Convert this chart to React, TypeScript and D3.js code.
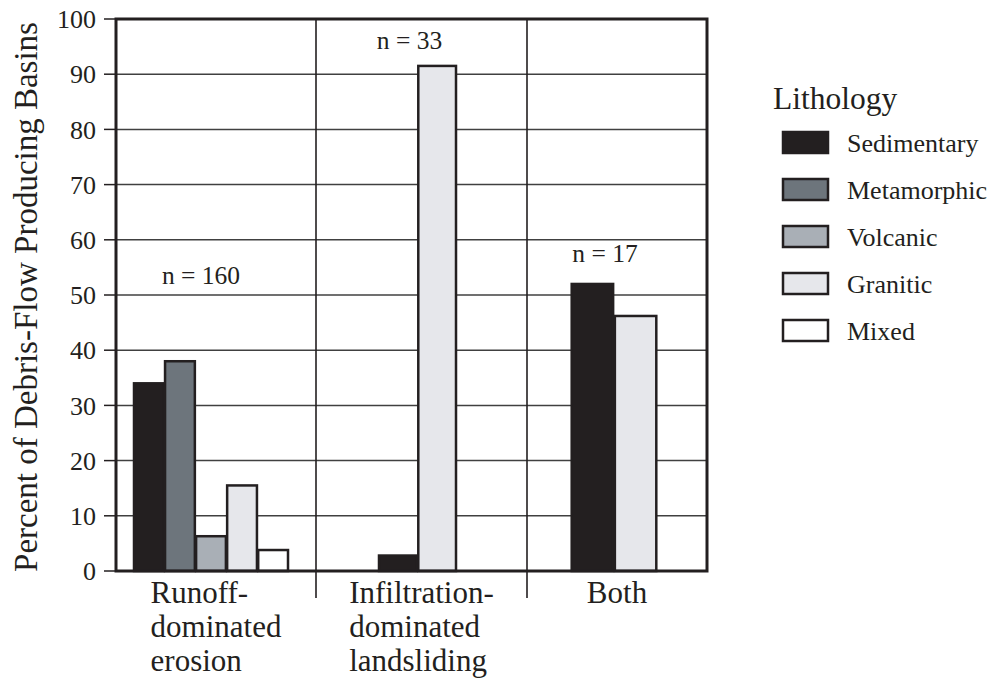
import React, { useEffect, useRef } from "react";
import * as d3 from "d3";

const lithologies = ["Sedimentary", "Metamorphic", "Volcanic", "Granitic", "Mixed"];
const lithColors = ["#231f20", "#6d757c", "#a9afb6", "#e6e7eb", "#ffffff"];

const categories = ["Runoff-dominated erosion", "Infiltration-dominated landsliding", "Both"];
const categoryLines = [["Runoff-", "dominated", "erosion"], ["Infiltration-", "dominated", "landsliding"], ["Both"]];

// values per category (null = no bar)
const runoffValues = [34, 38, 6.3, 15.5, 3.8];
const infiltrationValues = [2.8, null, null, 91.5, null];
const bothValues = [52, null, null, 46.2, null];
const seriesByCategory = [runoffValues, infiltrationValues, bothValues];

const nLabels = ["n = 160", "n = 33", "n = 17"];
const nLabelValues = [52, 94.5, 56];

const yTicks = [0, 10, 20, 30, 40, 50, 60, 70, 80, 90, 100];

const W = 990, H = 682;
const plot = { left: 116, top: 19, right: 707, bottom: 571 };
const catEdges = [116, 316, 527, 707];
const groupWidthFrac = [0.77, 0.365, 0.47];
const groupShift = [-5, -4, -3];
const INK = "#231f20";
const FONT = "'Liberation Serif', 'Times New Roman', serif";

export default function App() {
  const ref = useRef<SVGSVGElement>(null);
  useEffect(() => {
    const svg = d3.select(ref.current);
    svg.selectAll("*").remove();

    const y = d3.scaleLinear().domain([0, 100]).range([plot.bottom, plot.top]);
    const xCat = d3.scaleLinear().domain([0, 1, 2, 3]).range(catEdges);

    // gridlines
    svg.append("g").selectAll("line").data(yTicks.filter(t => t > 0 && t < 100)).join("line")
      .attr("x1", plot.left).attr("x2", plot.right)
      .attr("y1", d => y(d)).attr("y2", d => y(d))
      .attr("stroke", "#404040").attr("stroke-width", 1.5);

    // category dividers
    svg.append("g").selectAll("line").data([1, 2]).join("line")
      .attr("x1", d => xCat(d)).attr("x2", d => xCat(d))
      .attr("y1", plot.top).attr("y2", 598)
      .attr("stroke", INK).attr("stroke-width", 1.6);

    // bars
    seriesByCategory.forEach((vals, ci) => {
      const present = vals.map((v, i) => ({ v, i })).filter(d => d.v != null) as { v: number; i: number }[];
      const c0 = xCat(ci), c1 = xCat(ci + 1);
      const center = (c0 + c1) / 2;
      const gc = center + groupShift[ci];
      const gw = (c1 - c0) * groupWidthFrac[ci];
      const inner = d3.scaleBand<number>().domain(present.map(d => d.i)).range([gc - gw / 2, gc + gw / 2]).paddingInner(0.04);
      svg.append("g").selectAll("rect").data(present).join("rect")
        .attr("x", d => inner(d.i)!)
        .attr("width", inner.bandwidth())
        .attr("y", d => y(d.v))
        .attr("height", d => y(0) - y(d.v))
        .attr("fill", d => lithColors[d.i])
        .attr("stroke", INK).attr("stroke-width", 2.5);

      svg.append("text").attr("x", center - (ci === 0 ? 15 : 12)).attr("y", y(nLabelValues[ci]))
        .attr("text-anchor", "middle").attr("font-family", FONT).attr("font-size", 25.5).attr("fill", INK)
        .text(nLabels[ci]);

      // category labels
      const g = svg.append("g");
      const lines = categoryLines[ci];
      const texts = lines.map((l, li) => g.append("text").attr("y", 603 + li * 34)
        .attr("font-family", FONT).attr("font-size", 31).attr("fill", INK).text(l));
      const maxW = d3.max(texts, t => (t.node() as SVGTextElement).getComputedTextLength()) || 0;
      texts.forEach(t => t.attr("x", center - maxW / 2));
    });

    // frame
    svg.append("rect").attr("x", plot.left).attr("y", plot.top)
      .attr("width", plot.right - plot.left).attr("height", plot.bottom - plot.top)
      .attr("fill", "none").attr("stroke", INK).attr("stroke-width", 3);

    // y axis ticks and labels
    const ax = svg.append("g");
    ax.selectAll("line").data(yTicks).join("line")
      .attr("x1", 104).attr("x2", plot.left).attr("y1", d => y(d)).attr("y2", d => y(d))
      .attr("stroke", INK).attr("stroke-width", 1.5);
    ax.selectAll("text").data(yTicks).join("text")
      .attr("x", 96).attr("y", d => y(d)).attr("dy", "0.35em").attr("text-anchor", "end")
      .attr("font-family", FONT).attr("font-size", 26).attr("fill", INK).text(d => d);

    svg.append("text").attr("transform", `translate(37,${(plot.top + plot.bottom) / 2 + 2}) rotate(-90)`)
      .attr("text-anchor", "middle").attr("font-family", FONT).attr("font-size", 33).attr("fill", INK)
      .text("Percent of Debris-Flow Producing Basins");

    // legend
    const lg = svg.append("g");
    lg.append("text").attr("x", 773).attr("y", 109).attr("font-family", FONT).attr("font-size", 31.5).attr("fill", INK).text("Lithology");
    const items = lg.selectAll("g.item").data(lithologies).join("g").attr("class", "item")
      .attr("transform", (_, i) => `translate(0,${132 + i * 47})`);
    items.append("rect").attr("x", 783).attr("y", 0).attr("width", 45).attr("height", 21)
      .attr("fill", (_, i) => lithColors[i]).attr("stroke", INK).attr("stroke-width", 2.5);
    items.append("text").attr("x", 847).attr("y", 11).attr("dy", "0.35em")
      .attr("font-family", FONT).attr("font-size", 26).attr("fill", INK).text(d => d);
  }, []);
  return (
    <svg ref={ref} width={W} height={H} style={{ position: "absolute", left: 0, top: 0, background: "#fff" }} />
  );
}
